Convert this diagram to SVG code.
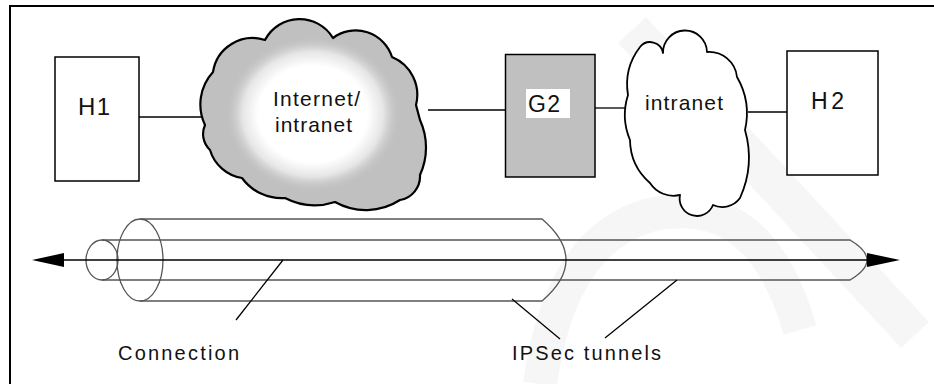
<svg xmlns="http://www.w3.org/2000/svg" width="934" height="384" viewBox="0 0 934 384">
<defs>
<style>
.box{fill:#fff;stroke:#000;stroke-width:1.5}
.ln{stroke:#000;stroke-width:1.3;fill:none}
.tl{stroke:#555;stroke-width:1.3;fill:none}
.t{font-family:"Liberation Sans",Arial,sans-serif;fill:#111}
.wm{fill:none;stroke:#f6f6f6}
</style>
<radialGradient id="glow" cx="0.5" cy="0.5" r="0.5">
<stop offset="0" stop-color="#fff"/>
<stop offset="0.62" stop-color="#fff"/>
<stop offset="0.8" stop-color="#e6e6e6"/>
<stop offset="1" stop-color="#c0c0c0" stop-opacity="0"/>
</radialGradient>
</defs>
<rect width="934" height="384" fill="#fff"/>
<g id="watermark">
<path class="wm" stroke-width="38" d="M632,30 L915,335"/>
<path class="wm" stroke-width="34" d="M540,384 Q560,240 650,215 Q760,190 800,330"/>
</g>
<path d="M10,384 V6 H934" fill="none" stroke="#000" stroke-width="2"/>
<g id="connectors">
<line class="ln" x1="138" y1="117" x2="268" y2="117"/>
<line class="ln" x1="428" y1="110" x2="505" y2="110"/>
<line class="ln" x1="595" y1="108" x2="626" y2="108"/>
<line class="ln" x1="748" y1="112" x2="787" y2="112"/>
</g>
<g id="H1">
<rect class="box" x="55" y="57" width="84" height="124"/>
<text class="t" x="78" y="115" font-size="24" textLength="32" lengthAdjust="spacing">H1</text>
</g>
<g id="cloud1">
<path d="M205,125 A48,48 0 0 1 213,72 A40,40 0 0 1 265,40 A39,39 0 0 1 333,38 A38,38 0 0 1 392,57 A41,41 0 0 1 416,105 L420,120 A66,66 0 0 1 420,175 A24,24 0 0 1 400,200 A63,63 0 0 1 335,202 A65,65 0 0 1 285,198 A49,49 0 0 1 242,178 A40,40 0 0 1 210,150 A22,22 0 0 1 205,125 Z" fill="#c0c0c0" stroke="#000" stroke-width="2.2" stroke-linejoin="round"/>
<ellipse cx="313" cy="114" rx="88" ry="78" fill="url(#glow)"/>
<text class="t" x="273" y="106" font-size="21" textLength="87" lengthAdjust="spacing">Internet/</text>
<text class="t" x="275" y="131.5" font-size="21" textLength="77" lengthAdjust="spacing">intranet</text>
</g>
<g id="G2">
<rect x="505.5" y="54.5" width="89.5" height="122.5" fill="#c0c0c0" stroke="#000" stroke-width="1.5"/>
<rect x="526" y="89" width="44" height="29" fill="#fff"/>
<text class="t" x="528" y="111.5" font-size="23" textLength="32" lengthAdjust="spacing">G2</text>
</g>
<g id="cloud2">
<path d="M628,95 A62,62 0 0 1 640,47 A13,13 0 0 1 663,53 A22,22 0 0 1 707,52 A28,28 0 0 1 737,77 A73,73 0 0 1 745,130 A99,99 0 0 1 740,198 A22,22 0 0 1 713,205 A17.3,17.3 0 0 1 680,195 A28,28 0 0 1 650,183 A58,58 0 0 1 630,140 A65,65 0 0 1 628,95 Z" fill="#fff" stroke="#000" stroke-width="1.8" stroke-linejoin="round"/>
<text class="t" x="645" y="110" font-size="21" textLength="78" lengthAdjust="spacing">intranet</text>
</g>
<g id="H2">
<rect class="box" x="787" y="51" width="91" height="124"/>
<text class="t" x="811" y="108.5" font-size="23" textLength="33" lengthAdjust="spacing">H2</text>
</g>
<g id="tunnels">
<ellipse class="tl" cx="140" cy="260" rx="23" ry="41" stroke="#000"/>
<path class="tl" d="M140,219 H542 Q590,260 542,301 H140"/>
<ellipse class="tl" cx="102" cy="260" rx="16" ry="20" stroke="#000"/>
<path class="tl" d="M102,240 H850 Q884,260 850,280 H102"/>
</g>
<g id="connection">
<line class="ln" x1="60" y1="260" x2="870" y2="260"/>
<polygon points="32,260 64,253 64,267" fill="#000"/>
<polygon points="900,260 867,253 867,267" fill="#000"/>
</g>
<g id="labels">
<line class="ln" x1="283" y1="260" x2="236" y2="320"/>
<line class="ln" x1="512" y1="299" x2="560" y2="339"/>
<line class="ln" x1="677" y1="280" x2="605" y2="338"/>
<text class="t" x="118" y="360" font-size="20" textLength="121" lengthAdjust="spacing">Connection</text>
<text class="t" x="512" y="360" font-size="20" textLength="149" lengthAdjust="spacing">IPSec tunnels</text>
</g>
</svg>
